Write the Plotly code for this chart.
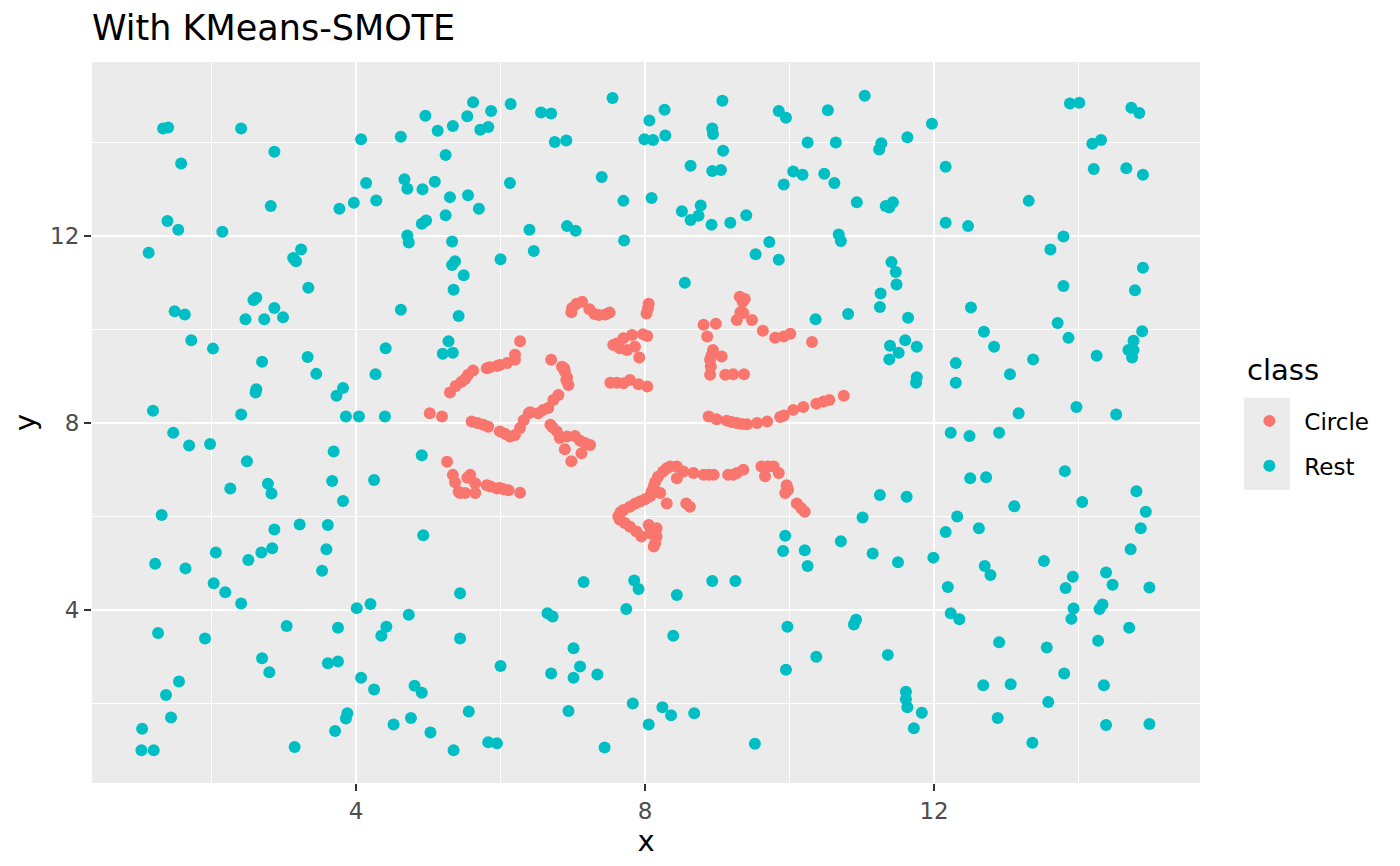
import plotly.graph_objects as go

# Rest class points
rest_x = [
    1.33, 1.40, 2.41, 4.07, 4.62, 4.96, 5.13, 5.34, 5.24, 2.87, 1.58, 4.14, 4.67, 4.71, 4.92, 5.09,
    5.30, 3.97, 3.77, 4.28, 2.82, 5.24, 4.91, 4.97, 1.39, 1.54, 2.15, 4.71, 4.73, 5.33, 1.13, 3.24,
    3.13, 3.17, 5.37, 5.33, 5.49, 3.34, 5.35, 2.58, 2.62, 1.49, 1.63, 2.47, 2.73, 2.87, 2.99, 4.62,
    5.42,
    1.72, 2.02, 2.70, 3.33, 3.45, 4.41, 4.27, 5.28, 5.20, 5.34, 2.62, 2.61, 3.82, 3.73, 1.19, 2.41,
    3.86, 4.04, 4.40, 1.47, 1.69, 1.98, 2.49, 3.69, 4.91, 2.26, 2.78, 2.83, 3.67, 3.82, 4.25, 1.31,
    2.87, 3.22, 3.61, 4.93, 2.06, 2.51, 2.69, 2.84, 3.59, 1.22, 1.64, 3.53,
    2.03, 2.19, 2.41, 4.01, 4.20, 4.73, 5.44, 1.26, 1.91, 3.04, 3.75, 4.42, 4.35, 5.44, 2.70, 2.80,
    3.61, 3.75, 1.55, 1.37, 4.07, 4.25, 4.81, 4.91, 1.44, 1.04, 1.03, 1.20, 3.15, 3.88, 3.86, 3.71,
    4.52, 4.76, 5.03, 5.35,
    5.62, 5.54, 5.87, 5.72, 5.83, 6.14, 6.56, 6.70, 6.75, 6.91, 7.55, 8.06, 8.27, 7.99, 8.11, 8.28,
    9.07, 8.93, 8.94, 9.85, 9.95, 10.53, 10.25, 9.08, 8.63, 8.93, 9.05, 10.05, 10.18, 10.48, 9.92,
    7.40, 6.13, 5.55, 5.70, 7.70, 8.09, 8.51, 8.77, 8.74, 8.63, 8.92, 9.18, 9.40, 6.40, 6.92, 7.04,
    7.71, 6.00, 6.46, 9.72, 9.53, 9.85, 8.55, 10.36,
    9.94, 9.91, 10.21,
    7.15, 7.85, 7.91, 8.44, 8.93, 9.25, 10.25, 7.74, 6.65, 6.72, 8.39, 9.97, 10.37, 9.95, 7.01, 6.00,
    6.70, 7.10, 7.01, 7.34, 5.56, 6.94, 7.83, 8.24, 8.36, 8.68, 8.05, 5.83, 5.95, 7.44, 9.52,
    11.04, 10.64, 11.27, 11.24, 11.63, 11.97, 12.16, 10.62, 10.93, 11.33, 11.43, 11.38, 12.16, 12.47,
    13.31, 13.88, 14.01, 14.73, 14.84, 14.19, 14.31, 14.21, 14.66, 14.89, 10.68, 10.71, 13.79, 13.61,
    11.41, 11.47, 11.48, 11.26, 11.25, 14.89, 13.79, 14.78, 10.81, 11.64, 12.51, 13.71,
    12.69, 12.83, 13.86, 14.88, 14.76, 14.69, 14.76, 14.74, 14.25, 13.37, 13.05, 11.39, 11.60, 11.76,
    11.51, 11.38, 11.76, 11.75, 12.30, 12.30, 13.17, 13.97, 14.52, 12.23, 12.49, 12.90, 12.50, 12.72,
    13.81, 11.25, 11.62, 14.80, 14.05, 13.11, 14.93, 11.01, 12.32, 12.62, 12.16, 14.86, 10.71, 11.15,
    14.72,
    11.50, 11.99, 12.70, 12.78, 13.52, 12.19, 13.92, 13.82, 14.38, 14.47, 14.98, 10.92, 10.89, 12.23,
    12.35, 13.93, 13.90, 14.33, 14.29, 11.36, 12.90, 13.56, 14.27, 14.70, 13.80, 12.68, 13.06, 14.35,
    11.61, 11.61, 11.63, 11.83, 11.72, 13.58, 12.88, 13.36, 14.38, 14.98,
]
rest_y = [
    14.30, 14.32, 14.30, 14.07, 14.12, 14.57, 14.25, 14.35, 13.73, 13.80, 13.55, 13.13, 13.21, 13.01, 13.00, 13.16,
    12.83, 12.71, 12.58, 12.76, 12.64, 12.44, 12.26, 12.33, 12.32, 12.13, 12.09, 12.01, 11.86, 11.88, 11.64, 11.71,
    11.53, 11.46, 11.46, 11.38, 11.16, 10.89, 10.85, 10.63, 10.68, 10.39, 10.32, 10.22, 10.22, 10.46, 10.26, 10.42,
    10.29,
    9.77, 9.59, 9.31, 9.41, 9.05, 9.60, 9.04, 9.75, 9.48, 9.50, 8.72, 8.65, 8.75, 8.58, 8.26, 8.18,
    8.14, 8.14, 8.14, 7.79, 7.52, 7.55, 7.18, 7.39, 7.31, 6.60, 6.70, 6.49, 6.76, 6.33, 6.78, 6.03,
    5.72, 5.83, 5.82, 5.60, 5.23, 5.07, 5.23, 5.32, 5.30, 4.99, 4.89, 4.84,
    4.57, 4.38, 4.14, 4.04, 4.13, 3.90, 4.36, 3.51, 3.39, 3.66, 3.62, 3.64, 3.45, 3.39, 2.97, 2.67,
    2.86, 2.90, 2.47, 2.18, 2.55, 2.30, 2.38, 2.23, 1.70, 1.46, 1.00, 1.00, 1.07, 1.79, 1.68, 1.41,
    1.55, 1.69, 1.38, 1.00,
    14.86, 14.56, 14.67, 14.27, 14.33, 14.82, 14.64, 14.62, 14.01, 14.04, 14.95, 14.47, 14.70, 14.07, 14.05, 14.15,
    14.89, 14.30, 14.18, 14.67, 14.53, 14.69, 14.00, 13.82, 13.50, 13.39, 13.41, 13.38, 13.31, 13.33, 13.10,
    13.26, 13.13, 12.87, 12.58, 12.75, 12.81, 12.53, 12.65, 12.43, 12.34, 12.24, 12.28, 12.44, 12.13, 12.21, 12.11,
    11.90, 11.50, 11.68, 11.87, 11.61, 11.49, 11.00, 10.22,
    5.59, 5.26, 5.28,
    4.60, 4.63, 4.45, 4.32, 4.62, 4.62, 4.94, 4.02, 3.93, 3.86, 3.45, 3.64, 3.00, 2.72, 3.18, 2.80,
    2.64, 2.79, 2.55, 2.62, 1.83, 1.84, 2.00, 1.92, 1.75, 1.79, 1.55, 1.17, 1.15, 1.06, 1.14,
    15.00, 14.00, 13.98, 13.85, 14.11, 14.40, 13.48, 13.13, 12.72, 12.64, 12.72, 12.61, 12.28, 12.21,
    12.75, 14.83, 14.85, 14.74, 14.63, 13.97, 14.05, 13.43, 13.45, 13.31, 12.03, 11.89, 11.99, 11.71,
    11.44, 11.23, 10.96, 10.77, 10.48, 11.32, 10.93, 10.84, 10.33, 10.25, 10.47, 10.14,
    9.95, 9.63, 9.82, 9.96, 9.76, 9.56, 9.56, 9.40, 9.44, 9.36, 9.04, 9.65, 9.77, 9.63,
    9.50, 9.36, 8.98, 8.86, 9.28, 8.86, 8.21, 8.34, 8.18, 7.79, 7.72, 7.79, 6.82, 6.84,
    6.97, 6.46, 6.42, 6.54, 6.31, 6.22, 6.10, 5.98, 6.00, 5.75, 5.67, 5.75, 5.47, 5.21,
    5.30,
    5.02, 5.12, 4.94, 4.75, 5.05, 4.49, 4.71, 4.47, 4.80, 4.54, 4.48, 3.79, 3.69, 3.93,
    3.80, 4.03, 3.81, 4.12, 4.02, 3.04, 3.31, 3.20, 3.34, 3.62, 2.64, 2.39, 2.41, 2.39,
    2.25, 2.09, 1.92, 1.80, 1.47, 2.03, 1.69, 1.16, 1.54, 1.56,
]

# Circle class points (synthetic samples along short chains)
circle_x = [
    7.05, 6.98, 7.23, 7.36, 7.51, 6.99, 7.13, 7.30, 7.45,
    8.05, 8.02, 8.04,
    9.31, 9.35, 9.32, 9.27, 9.48, 8.81, 8.98, 8.86, 9.36, 9.63, 9.80, 9.92, 10.01, 10.31, 9.38,
    7.61, 7.70, 7.82, 7.97, 7.75, 7.86, 7.92, 7.56, 7.65, 8.03,
    7.61, 7.79, 7.91, 8.03, 7.70, 7.52,
    8.94, 8.90, 8.90, 9.06, 9.11, 9.22, 9.37, 8.91, 8.92,
    8.88, 8.99, 9.13, 9.27, 9.41, 9.55, 9.69, 9.92, 10.05, 10.19, 10.47, 9.87, 10.37, 10.55, 10.75,
    9.20, 9.34,
    5.02, 5.19, 5.30, 5.46, 5.55, 5.62, 5.81, 5.95, 6.09, 6.20, 6.20, 6.27, 5.38, 5.51, 5.85, 5.99,
    6.70, 6.85, 6.89, 6.91, 6.94, 6.88, 6.92,
    6.80, 6.73, 6.59, 6.52, 6.39, 6.32, 6.27, 6.20, 6.13, 5.99, 5.60, 5.76, 5.83, 6.41, 6.66, 6.06, 5.68,
    6.69, 6.78, 6.92, 7.10, 7.24, 7.12, 6.98, 6.89, 6.82, 7.03, 7.17, 6.72,
    5.26, 5.34, 5.37, 5.44, 5.42, 5.58, 5.65, 5.65, 5.81, 5.95, 6.11, 6.27, 5.51, 5.54, 5.86, 5.99, 6.04,
    7.63, 7.70, 7.79, 7.93, 8.07, 8.12, 8.18, 8.30, 8.44, 8.53, 8.44, 8.67, 8.81, 8.95, 9.15, 9.27,
    9.36, 9.61, 9.78, 9.85, 9.66, 9.96, 9.94, 10.10, 10.21, 8.21, 8.30, 8.57, 8.62, 7.65, 7.79, 7.95,
    8.05, 8.16, 8.14, 8.12, 8.14, 8.25, 8.35, 7.86, 8.00, 8.09, 7.72, 7.88, 8.07, 8.16, 7.66, 9.70,
    9.98, 10.16, 9.22, 8.88,
]
circle_y = [
    10.55, 10.37, 10.43, 10.31, 10.36, 10.46, 10.59, 10.33, 10.32,
    10.55, 10.34, 10.45,
    10.70, 10.59, 10.37, 10.20, 10.20, 10.10, 10.12, 9.85, 10.35, 9.97, 9.82, 9.85, 9.91, 9.73, 10.65,
    9.70, 9.81, 9.88, 9.90, 9.56, 9.63, 9.40, 9.67, 9.60, 9.86,
    8.86, 8.92, 8.83, 8.78, 8.85, 8.86,
    9.56, 9.35, 9.03, 9.42, 9.03, 9.04, 9.04, 9.21, 9.45,
    8.14, 8.08, 8.05, 8.00, 7.97, 8.00, 8.03, 8.16, 8.28, 8.34, 8.46, 8.13, 8.41, 8.49, 8.58,
    8.02, 7.98,
    8.21, 8.14, 8.65, 8.88, 9.03, 9.12, 9.17, 9.22, 9.28, 9.35, 9.46, 9.75, 8.79, 8.94, 9.19, 9.24,
    9.35, 9.20, 9.10, 8.92, 8.81, 9.17, 8.98,
    8.60, 8.49, 8.28, 8.21, 8.21, 8.06, 7.89, 7.74, 7.71, 7.82, 8.03, 7.96, 7.92, 8.23, 8.32, 7.77, 8.00,
    7.96, 7.82, 7.71, 7.62, 7.53, 7.35, 7.18, 7.44, 7.68, 7.72, 7.57, 7.91,
    7.17, 6.89, 6.73, 6.50, 6.53, 6.89, 6.71, 6.50, 6.67, 6.60, 6.56, 6.51, 6.50, 6.83, 6.64, 6.61, 6.58,
    6.00, 6.14, 6.21, 6.32, 6.43, 6.64, 6.85, 7.03, 7.07, 6.96, 6.82, 6.93, 6.89, 6.89, 6.89, 6.93,
    7.00, 7.07, 7.07, 6.93, 6.86, 6.67, 6.50, 6.28, 6.10, 6.50, 6.28, 6.28, 6.21, 5.93, 5.78, 5.57,
    5.82, 5.75, 5.43, 5.36, 6.74, 6.96, 7.07, 6.27, 6.37, 6.53, 5.86, 5.68, 5.64, 5.57, 6.09, 7.07,
    6.57, 6.18, 6.89, 6.89,
]

classes = ["Circle", "Rest"]
colors = ["#F8766D", "#00BFC4"]
font = "DejaVu Sans"

fig = go.Figure()
for name, xs, ys, col in zip(classes, [circle_x, rest_x], [circle_y, rest_y], colors):
    fig.add_trace(go.Scatter(
        x=xs, y=ys, mode="markers", name=name,
        legendgroup=name,
        marker=dict(color=col, size=12, line_width=0),
    ))

# grey key backgrounds like ggplot legend keys
fig.add_shape(type="rect", xref="paper", yref="paper",
              x0=1.0397, x1=1.0812, y0=0.4064, y1=0.5344,
              fillcolor="#EBEBEB", line_width=0, layer="below")

# legend title
fig.add_annotation(text="class", xref="paper", yref="paper",
                   x=1.0406, y=0.5728, xanchor="left", yanchor="middle",
                   showarrow=False, font=dict(family=font, size=29, color="black"))

axis_common = dict(
    showgrid=True, gridcolor="white", gridwidth=2.2,
    zeroline=False, showline=False,
    ticks="outside", ticklen=7, tickwidth=2, tickcolor="#333333",
    tickfont=dict(family=font, size=23, color="#4D4D4D"),
    dtick=4, tick0=0,
    minor=dict(dtick=2, tick0=0, showgrid=True, gridcolor="white", gridwidth=1.1, ticks=""),
)

# page body adds 8px offset, so the figure is a bit smaller than the window
fig.update_layout(
    width=1392, height=858,
    margin=dict(l=84, r=200, t=54, b=83),
    paper_bgcolor="white", plot_bgcolor="#EBEBEB",
    title=dict(text="With KMeans-SMOTE", x=84/1392, xanchor="left",
               y=1 - 20/858, yanchor="middle",
               font=dict(family=font, size=35, color="black")),
    xaxis=dict(axis_common, range=[0.346, 15.68],
               title=dict(text="x", standoff=0, font=dict(family=font, size=29, color="black"))),
    yaxis=dict(axis_common, range=[0.30, 15.72],
               title=dict(text="y", standoff=6, font=dict(family=font, size=29, color="black"))),
    legend=dict(x=1.031, xanchor="left", y=0.532, yanchor="top",
                font=dict(family=font, size=23, color="black"),
                itemwidth=60,
                tracegroupgap=12, bgcolor="rgba(0,0,0,0)"),
    showlegend=True,
)

fig.write_html("out.html")
